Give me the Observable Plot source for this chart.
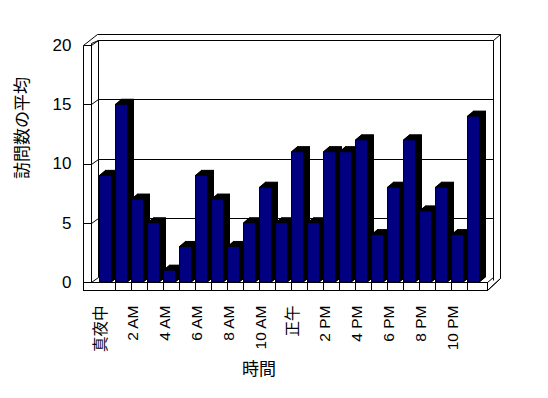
<!DOCTYPE html>
<html><head><meta charset="utf-8">
<script src="https://cdn.jsdelivr.net/npm/d3@7"></script>
<script src="https://cdn.jsdelivr.net/npm/@observablehq/plot@0.6"></script>
<style>body{margin:0;background:#fff}</style>
</head><body><div id="chart"></div>
<script>
const hourLabels = ["真夜中","1 AM","2 AM","3 AM","4 AM","5 AM","6 AM","7 AM","8 AM","9 AM","10 AM","11 AM",
                    "正午","1 PM","2 PM","3 PM","4 PM","5 PM","6 PM","7 PM","8 PM","9 PM","10 PM","11 PM"];
const visits = [9,15,7,5,1,3,9,7,3,5,8,5,11,5,11,11,12,4,8,12,6,8,4,14];
const xTickLabels = ["真夜中","2 AM","4 AM","6 AM","8 AM","10 AM","正午","2 PM","4 PM","6 PM","8 PM","10 PM"];
const yTicks = [0,5,10,15,20];
const yTitle = "訪問数の平均";
const xTitle = "時間";

const rows = hourLabels.map((h, i) => ({hour: h, visits: visits[i]}));
const DX = 6, DY = -5, STEPS = 6;
const p = v => Math.round(v) + 0.5;

function backWalls(index, scales, values, dims) {
  const {y} = scales;
  const x0 = dims.marginLeft, x1 = dims.width - dims.marginRight;
  const bx0 = x0 + 5, bx1 = x1 + 5, bo = -5;
  const yb = y(0), yt = y(20);
  const g = d3.create("svg:g").attr("fill", "none").attr("stroke", "black").attr("stroke-width", 1);
  let d = "";
  d += `M${p(bx0)},${p(yb + bo)}V${p(yt + bo)}H${p(bx1)}V${p(yb - 2)}`;
  for (const v of yTicks) {
    if (v !== 0 && v !== 20) d += `M${p(bx0)},${p(y(v) + bo)}H${p(bx1)}`;
    d += `M${p(x0 - 10)},${p(y(v))}H${p(x0 - 2)}L${p(bx0)},${p(y(v) + bo)}`;
  }
  d += `M${p(x0 - 10)},${p(yb + 8)}V${p(yt)}L${p(x0 + 4)},${p(yt - 11)}H${p(x1 + 12)}V${p(yb - 4)}L${p(x1 - 1)},${p(yb + 8)}`;
  d += `M${p(x0 - 2)},${p(yb)}V${p(yt - 2)}L${p(bx0)},${p(yt + bo)}`;
  d += `M${p(bx1)},${p(yt + bo)}L${p(x1 + 12)},${p(yt - 11)}`;
  g.append("path").attr("d", d);
  return g.node();
}

function floorStrip(index, scales, values, dims) {
  const {x, y} = scales;
  const x0 = dims.marginLeft, x1 = dims.width - dims.marginRight;
  const yb = y(0);
  const g = d3.create("svg:g").attr("stroke", "black").attr("stroke-width", 1);
  g.append("rect").attr("x", p(x0 - 10)).attr("y", p(yb)).attr("width", Math.round(x1 - 1) - Math.round(x0 - 10))
    .attr("height", 8).attr("fill", "white");
  let d = "";
  hourLabels.forEach((h, i) => { if (i > 0) d += `M${p(x(h))},${p(yb)}V${p(yb + 8)}`; });
  d += `M${p(x1 - 1)},${p(yb)}L${p(x1 + 5)},${p(yb - 5)}`;
  d += `M${p(x1 - 1)},${p(yb + 8)}L${p(x1 + 12)},${p(yb - 4)}`;
  g.append("path").attr("fill", "none").attr("d", d);
  return g.node();
}

const extrusion = d3.range(1, STEPS + 1).map(k =>
  Plot.barY(rows, {x: "hour", y1: 0, y2: "visits", fill: "black", stroke: "black",
    insetLeft: 0.5, insetRight: 3.5, dx: k * DX / STEPS, dy: k * DY / STEPS}));

const chart = Plot.plot({
  width: 548, height: 398,
  marginLeft: 93, marginRight: 60, marginTop: 45, marginBottom: 116,
  x: {domain: hourLabels, padding: 0, axis: null},
  y: {domain: [0, 20], axis: null},
  style: {fontFamily: "'Liberation Sans', 'Noto Sans CJK JP', sans-serif", fontSize: "16px", background: "white", color: "black"},
  marks: [
    backWalls,
    ...extrusion,
    Plot.barY(rows, {x: "hour", y1: 0, y2: "visits", fill: "#000080", stroke: "black", insetLeft: 0.5, insetRight: 3.5}),
    floorStrip,
    Plot.text(yTicks, {y: d => d, text: d => String(d), frameAnchor: "left", textAnchor: "end", dx: -22, fontSize: 17}),
    Plot.text(xTickLabels, {x: d => d, text: d => d, frameAnchor: "bottom", rotate: -90, textAnchor: "end", dy: 23, dx: -2, fontSize: 15.5}),
    Plot.text([yTitle], {text: d => d, frameAnchor: "left", rotate: -90, dx: -71, dy: 15, fontSize: 17}),
    Plot.text([xTitle], {text: d => d, frameAnchor: "bottom", dx: -32, dy: 92, fontSize: 17})
  ]
});
document.getElementById("chart").appendChild(chart);
</script>
</body></html>
